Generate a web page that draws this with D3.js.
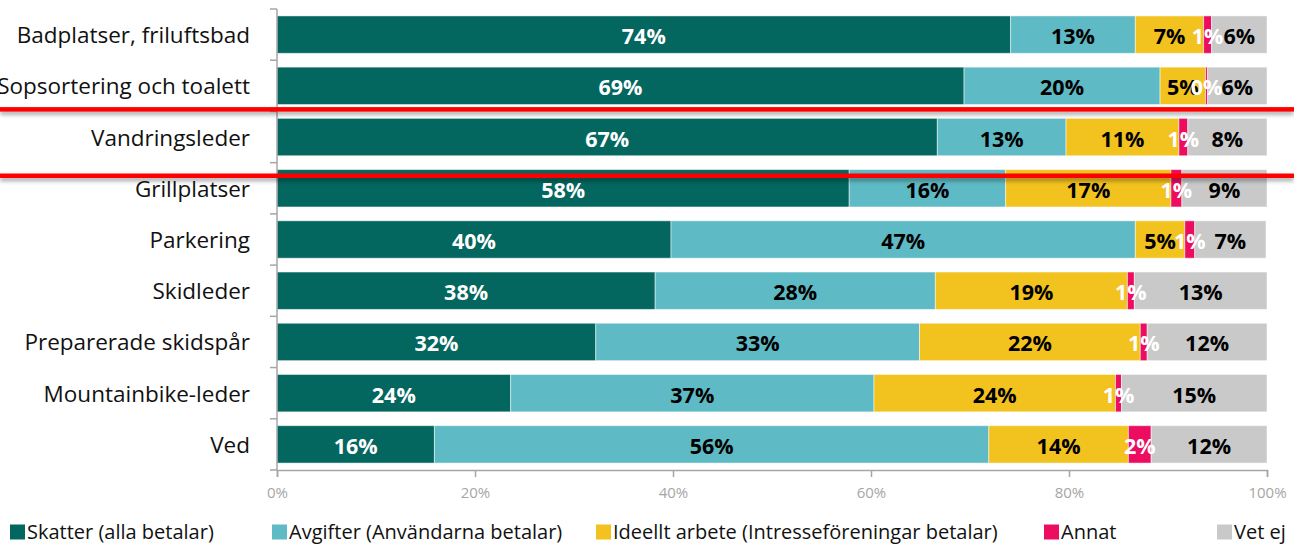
<!DOCTYPE html>
<html>
<head>
<meta charset="utf-8">
<script src="https://cdn.jsdelivr.net/npm/d3@7"></script>
<style>
  body { margin: 0; background: #fff; overflow: hidden; }
  svg { display: block; font-family: "Open Sans", Lato, sans-serif; }
</style>
</head>
<body>
<svg id="chart" width="1294" height="544"></svg>
<script>
// categories (top to bottom)
const categories = [
    "Badplatser, friluftsbad",
    "Sopsortering och toalett",
    "Vandringsleder",
    "Grillplatser",
    "Parkering",
    "Skidleder",
    "Preparerade skidspår",
    "Mountainbike-leder",
    "Ved"
];

const seriesNames = [
    "Skatter (alla betalar)",
    "Avgifter (Användarna betalar)",
    "Ideellt arbete (Intresseföreningar betalar)",
    "Annat",
    "Vet ej"
];

// shares in %, one value per category
const skatter  = [74.1, 69.4, 66.7, 57.8, 39.8, 38.2, 32.2, 23.6, 15.9];
const avgifter = [12.6, 19.8, 13.0, 15.8, 46.9, 28.3, 32.7, 36.7, 56.0];
const ideellt  = [ 6.9,  4.6, 11.4, 16.7,  5.0, 19.4, 22.3, 24.4, 14.1];
const annat    = [ 0.8,  0.2,  0.9,  1.1,  1.0,  0.7,  0.7,  0.6,  2.3];
const vetEj    = [ 5.6,  6.0,  8.0,  8.6,  7.2, 13.4, 12.1, 14.7, 11.7];

const xTicks = [0, 20, 40, 60, 80, 100];

const colors = ["#03665F", "#5EBAC4", "#F2C21F", "#EC0C60", "#C9C9C9"];
const labelColors = ["#fff", "#000", "#000", "#fff", "#000"];

const margin = { left: 277, top: 9, right: 27, bottom: 74 };
const width = 990;
const height = 461;

const svg = d3.select("#chart");
const g = svg.append("g")
    .attr("transform", `translate(${margin.left}, ${margin.top})`);

const x = d3.scaleLinear().domain([0, 100]).range([0, width]);
const y = d3.scaleBand()
    .domain(categories)
    .range([0, height])
    .paddingInner(0.27)
    .paddingOuter(0.135);

// build table for stacking
const table = categories.map((c, i) => ({
    cat: c,
    s0: skatter[i], s1: avgifter[i], s2: ideellt[i], s3: annat[i], s4: vetEj[i]
}));
const stack = d3.stack().keys(["s0", "s1", "s2", "s3", "s4"]);
const series = stack(table);

const layers = g.selectAll("g.layer")
    .data(series)
    .join("g")
    .attr("class", "layer")
    .attr("fill", (d, i) => colors[i]);

layers.selectAll("rect")
    .data(d => d)
    .join("rect")
    .attr("x", d => x(d[0]))
    .attr("y", d => y(d.data.cat))
    .attr("width", d => x(d[1]) - x(d[0]))
    .attr("height", y.bandwidth())
    .attr("stroke", "#fff")
    .attr("stroke-opacity", 0.5)
    .attr("stroke-width", 1);

// value labels
series.forEach((s, i) => {
    g.append("g").selectAll("text")
        .data(s)
        .join("text")
        .attr("x", d => (x(d[0]) + x(d[1])) / 2)
        .attr("y", d => y(d.data.cat) + y.bandwidth() / 2 + 1)
        .attr("text-anchor", "middle")
        .attr("dominant-baseline", "central")
        .attr("font-size", "21.5px")
        .attr("font-weight", "bold")
        .attr("fill", labelColors[i])
        .text(d => Math.round(d[1] - d[0]) + "%");
});

// y axis (line + ticks at band edges)
const axisColor = "#A6A6A6";
g.append("line")
    .attr("x1", 0).attr("x2", 0)
    .attr("y1", 0).attr("y2", height)
    .attr("stroke", axisColor).attr("stroke-width", 1.5);

const edges = categories.map(c => y(c) - y.step() * y.paddingInner() / 2).concat([height]);
g.selectAll("line.ytick")
    .data(edges)
    .join("line")
    .attr("class", "ytick")
    .attr("x1", -7).attr("x2", 0)
    .attr("y1", d => d).attr("y2", d => d)
    .attr("stroke", axisColor).attr("stroke-width", 1.5);

g.selectAll("text.cat")
    .data(categories)
    .join("text")
    .attr("class", "cat")
    .attr("x", -27)
    .attr("y", d => y(d) + y.bandwidth() / 2)
    .attr("text-anchor", "end")
    .attr("dominant-baseline", "central")
    .attr("font-size", "22.5px")
    .attr("fill", "#111")
    .text(d => d);

// x axis
const xAxis = g.append("g")
    .attr("transform", `translate(0, ${height})`)
    .call(d3.axisBottom(x).tickValues(xTicks).tickFormat(d => d + "%").tickSize(7).tickPadding(10));
xAxis.select(".domain").attr("stroke", axisColor).attr("stroke-width", 1.5);
xAxis.selectAll(".tick line").attr("stroke", axisColor).attr("stroke-width", 1.5);
xAxis.selectAll(".tick text")
    .attr("fill", "#A6A6A6")
    .attr("font-size", "15px")
    .attr("font-family", "'Open Sans', sans-serif");

// legend
const legendX = [10, 272, 596, 1044, 1217];
const legend = svg.append("g").attr("transform", "translate(0, 531)");
seriesNames.forEach((name, i) => {
    legend.append("rect")
        .attr("x", legendX[i]).attr("y", -6.5)
        .attr("width", 15).attr("height", 15)
        .attr("fill", colors[i]);
    legend.append("text")
        .attr("x", legendX[i] + 17)
        .attr("y", 0)
        .attr("dominant-baseline", "central")
        .attr("font-size", "20px")
        .attr("fill", "#111")
        .text(name);
});

// red highlight lines around Vandringsleder
const defs = svg.append("defs");
const f = defs.append("filter").attr("id", "shadow")
    .attr("filterUnits", "userSpaceOnUse")
    .attr("x", 0).attr("y", 0).attr("width", 1294).attr("height", 544);
f.append("feDropShadow")
    .attr("dx", 0).attr("dy", 3).attr("stdDeviation", 2)
    .attr("flood-color", "#000").attr("flood-opacity", 0.35);

const vTop = margin.top + y("Vandringsleder");
const redY = [vTop - 9, vTop + y.bandwidth() + 20];
svg.selectAll("rect.red")
    .data(redY)
    .join("rect")
    .attr("class", "red")
    .attr("x", 0).attr("width", 1294)
    .attr("y", d => d - 2.25).attr("height", 4.5)
    .attr("fill", "#FF0000")
    .attr("filter", "url(#shadow)");
</script>
</body>
</html>
